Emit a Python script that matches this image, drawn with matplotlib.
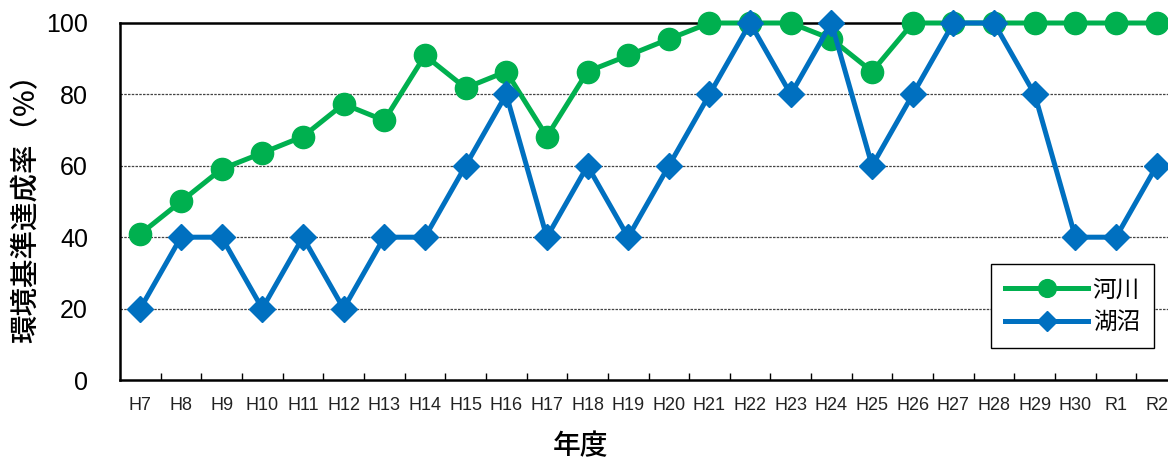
import numpy as np
import matplotlib
matplotlib.use("Agg")
import matplotlib.pyplot as plt

plt.rcParams['font.family'] = ['Liberation Sans', 'Noto Sans CJK JP', 'DejaVu Sans']

# 年度
years = ["H7", "H8", "H9", "H10", "H11", "H12", "H13", "H14", "H15", "H16",
         "H17", "H18", "H19", "H20", "H21", "H22", "H23", "H24", "H25", "H26",
         "H27", "H28", "H29", "H30", "R1", "R2"]

# 河川 (%)
river = [40.9, 50.0, 59.1, 63.6, 68.2, 77.3, 72.7, 90.9, 81.8, 86.4,
         68.2, 86.4, 90.9, 95.5, 100, 100, 100, 95.5, 86.4, 100,
         100, 100, 100, 100, 100, 100]

# 湖沼 (%)
lake = [20, 40, 40, 20, 40, 20, 40, 40, 60, 80,
        40, 60, 40, 60, 80, 100, 80, 100, 60, 80,
        100, 100, 80, 40, 40, 60]

green = "#00B04F"
blue = "#0070C0"
cjk = ["Noto Sans CJK JP"]

fig = plt.figure(figsize=(11.68, 4.61), dpi=100)
ax = fig.add_axes([120/1168, 81/461, 1057/1168, 357/461])

x = np.arange(len(years))
ax.plot(x, river, color=green, lw=3.6, marker="o", ms=16, label="河川", clip_on=False, zorder=3)
ax.plot(x, lake, color=blue, lw=3.6, marker="D", ms=13, label="湖沼", clip_on=False, zorder=4)

ax.set_xlim(-0.5, len(years) - 0.5)
ax.set_ylim(0, 100)
ax.set_yticks([0, 20, 40, 60, 80, 100])
ax.tick_params(axis="y", length=0, labelsize=18, pad=23)
ax.set_xticks(x)
ax.set_xticklabels(years)
ax.tick_params(axis="x", which="major", length=0, labelsize=13, pad=12, labelcolor="#222222")
ax.set_xticks(x[:-1] + 0.5, minor=True)
ax.tick_params(axis="x", which="minor", direction="in", length=5, width=1)

for v in [20, 40, 60, 80]:
    ax.axhline(v, color="#444444", lw=0.9, ls=(0, (2, 1)), zorder=1)

for s in ["left", "bottom", "top"]:
    ax.spines[s].set_linewidth(1.8)
ax.spines["right"].set_visible(False)

ax.set_ylabel("環境基準達成率（%）", fontsize=20.5, family=cjk, fontweight="medium", labelpad=4)
fig.text(580/1168, 1/461, "年度", fontsize=20, family=cjk, fontweight="medium",
         ha="center", va="bottom")

leg = ax.legend(loc="upper left", bbox_to_anchor=(0.813, 0.357), fancybox=False,
                edgecolor="black", framealpha=1, handlelength=3.5,
                borderpad=0.6, labelspacing=0.4, handletextpad=0.2, markerscale=0.8,
                prop={"family": cjk, "size": 17})
leg.get_frame().set_linewidth(1.0)

fig.savefig("out.png", dpi=100)
